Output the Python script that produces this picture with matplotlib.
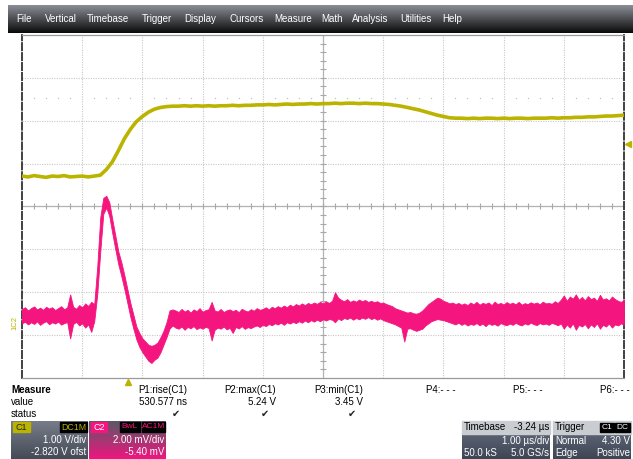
import numpy as np
import matplotlib
matplotlib.use("Agg")
import matplotlib.pyplot as plt
from matplotlib.patches import Rectangle
from matplotlib.colors import LinearSegmentedColormap

plt.rcParams['font.family'] = ['Liberation Sans', 'DejaVu Sans']

# --- channel settings ---
c1_scale, c1_offset = 1.00, -2.820   # V/div, V
c2_scale, c2_offset = 2.00, -5.40    # mV/div, mV
c1_dt = 0.1                          # us between listed C1 samples
c2_dt = 0.05                         # us between listed C2 samples

# C1 (yellow) in V, one value every 0.1 us
c1_volts = [
    3.53, 3.51, 3.54, 3.52, 3.50, 3.53, 3.52, 3.54, 3.51, 3.52,
    3.53, 3.51, 3.53, 3.55, 3.68, 3.86, 4.12, 4.40, 4.62, 4.80,
    4.92, 5.02, 5.09, 5.13, 5.15, 5.16, 5.16, 5.17, 5.16, 5.17,
    5.16, 5.17, 5.16, 5.17, 5.17, 5.18, 5.17, 5.18, 5.18, 5.19,
    5.19, 5.20, 5.19, 5.20, 5.21, 5.20, 5.21, 5.21, 5.22, 5.21,
    5.22, 5.22, 5.23, 5.22, 5.23, 5.23, 5.22, 5.23, 5.22, 5.22,
    5.21, 5.20, 5.18, 5.16, 5.13, 5.10, 5.07, 5.03, 4.99, 4.95,
    4.92, 4.89, 4.88, 4.88, 4.87, 4.88, 4.87, 4.88, 4.88, 4.87,
    4.88, 4.87, 4.88, 4.88, 4.87, 4.88, 4.88, 4.88, 4.89, 4.88,
    4.89, 4.89, 4.90, 4.90, 4.91, 4.91, 4.92, 4.93, 4.93, 4.94,
    4.95,
]

# C2 (pink) noise envelope in mV, one pair every 0.05 us
c2_low = [
    -0.05, 0.02, -0.10, 0.00, -0.08, 0.04, -0.12, -0.02, 0.05, -0.09,
    0.00, -0.06, 0.03, -0.11, -0.04, 0.01, -0.75, -0.08, 0.02, -0.15,
    -0.05, -0.25, -0.10, -0.45, 0.05, 1.30, 3.30, 5.05, 5.35, 4.95,
    4.15, 3.40, 2.70, 2.15, 1.55, 0.90, 0.25, -0.30, -0.80, -1.15,
    -1.40, -1.60, -1.80, -1.90, -1.75, -1.65, -1.40, -1.05, -0.70, -0.30,
    -0.15, -0.25, -0.30, -0.20, -0.35, -0.22, -0.28, -0.18, -0.32, -0.24,
    -0.30, -0.21, -0.27, -0.85, -0.35, -0.25, -0.30, -0.20, -0.33, -0.26,
    -0.50, -0.22, -0.29, -0.18, -0.31, -0.23, -0.27, -0.20, -0.15, -0.22,
    -0.12, -0.18, -0.08, -0.14, -0.05, -0.10, -0.02, -0.12, 0.00, -0.06,
    0.02, -0.04, 0.05, -0.02, 0.08, 0.00, 0.10, 0.03, 0.12, 0.05,
    0.14, 0.08, 0.15, 0.12, 0.00, 0.18, 0.10, 0.20, 0.15, 0.22,
    0.12, 0.20, 0.14, 0.22, 0.16, 0.24, 0.15, 0.20, 0.12, 0.18,
    0.10, 0.05, 0.00, -0.05, -0.10, -0.18, -0.25, -0.90, -0.30, -0.28,
    -0.35, -0.40, -0.35, -0.30, -0.15, -0.05, 0.05, 0.10, 0.15, 0.12,
    0.10, 0.05, 0.00, -0.05, -0.10, -0.02, -0.12, -0.05, -0.15, -0.08,
    -0.12, -0.04, -0.14, -0.06, -0.18, -0.05, -0.12, -0.08, -0.16, -0.04,
    -0.10, -0.14, -0.06, -0.12, -0.03, -0.10, -0.15, -0.05, -0.11, -0.02,
    -0.09, -0.13, -0.04, -0.10, -0.06, -0.12, -0.03, -0.08, -0.14, -0.05,
    -0.30, -0.10, -0.25, -0.05, -0.35, -0.12, -0.20, -0.08, -0.28, -0.10,
    -0.22, -0.05, -0.30, -0.12, -0.20, -0.06, -0.25, -0.10, -0.15, -0.05,
    -0.12,
]
c2_high = [
    0.62, 0.70, 0.55, 0.66, 0.74, 0.60, 0.68, 0.58, 0.72, 0.64,
    0.70, 0.57, 0.66, 0.75, 0.61, 0.69, 1.30, 0.72, 0.63, 0.80,
    0.70, 0.88, 0.76, 0.95, 0.85, 2.60, 4.90, 5.80, 5.90, 5.60,
    4.80, 4.05, 3.30, 2.80, 2.20, 1.55, 0.90, 0.35, -0.20, -0.50,
    -0.75, -0.90, -1.05, -1.10, -1.05, -0.95, -0.70, -0.40, 0.00, 0.55,
    0.60, 0.55, 0.48, 0.62, 0.50, 0.58, 0.45, 0.60, 0.52, 0.66,
    0.49, 0.57, 0.61, 0.95, 0.55, 0.50, 0.62, 0.48, 0.56, 0.60,
    0.52, 0.58, 0.47, 0.63, 0.55, 0.50, 0.61, 0.54, 0.66, 0.58,
    0.62, 0.70, 0.60, 0.72, 0.66, 0.75, 0.68, 0.78, 0.70, 0.82,
    0.74, 0.85, 0.78, 0.88, 0.80, 0.90, 0.84, 0.92, 0.86, 0.95,
    0.88, 0.98, 0.90, 1.00, 1.40, 1.15, 1.05, 0.98, 1.08, 0.95,
    1.02, 0.96, 1.06, 0.98, 1.04, 0.95, 1.00, 0.94, 0.98, 0.90,
    0.92, 0.85, 0.80, 0.75, 0.65, 0.60, 0.55, 0.50, 0.45, 0.48,
    0.42, 0.40, 0.45, 0.55, 0.70, 0.85, 0.95, 1.05, 1.15, 1.10,
    1.00, 0.95, 0.88, 0.92, 0.85, 0.90, 0.82, 0.88, 0.80, 0.92,
    0.84, 0.95, 0.82, 0.90, 0.86, 0.92, 0.80, 0.96, 0.85, 0.90,
    0.83, 0.94, 0.86, 0.91, 0.84, 0.95, 0.82, 0.89, 0.85, 0.93,
    0.87, 0.92, 0.84, 0.96, 0.88, 0.90, 0.86, 0.98, 0.90, 1.05,
    1.25, 1.00, 1.20, 1.10, 1.30, 1.05, 1.18, 1.02, 1.22, 1.08,
    1.15, 1.00, 1.28, 1.06, 1.12, 1.02, 1.20, 1.08, 1.00, 0.95,
    1.05,
]

trigger_level = 4.30      # V on C1
trigger_time = 1.76       # us from left edge of screen
marker_level = 5.35       # dotted reference level, V on C1

menu_items = ["File", "Vertical", "Timebase", "Trigger", "Display", "Cursors",
              "Measure", "Math", "Analysis", "Utilities", "Help"]
meas_names = ["P1:rise(C1)", "P2:max(C1)", "P3:min(C1)", "P4:- - -", "P5:- - -", "P6:- - -"]
meas_values = ["530.577 ns", "5.24 V", "3.45 V", "", "", ""]
meas_ok = [True, True, True, False, False, False]

YEL = '#bab300'
PINK = '#f5157f'

fig = plt.figure(figsize=(6.33, 4.59), dpi=100)

# overlay in pixel coordinates for the scope chrome
ov = fig.add_axes([0, 0, 1, 1])
ov.set_xlim(0, 633)
ov.set_ylim(459, 0)
ov.axis('off')


def grad(x0, y0, x1, y1, top, bot):
    cm = LinearSegmentedColormap.from_list('g', [top, bot])
    ov.imshow(np.linspace(0, 1, 64)[:, None], cmap=cm, extent=[x0, x1, y1, y0],
              aspect='auto', zorder=1, interpolation='bilinear')


def txt(x, y, s, ha='left', color='black', size=7, **kw):
    ov.text(x, y, s, ha=ha, va='center', color=color, fontsize=size, zorder=5, **kw)


# menu bar
grad(8, 5, 633, 33, '#8a8e96', '#0a0a0a')
menu_x = [16, 45, 87, 142, 184, 229, 274, 321, 352, 400, 442]
for s, x in zip(menu_items, menu_x):
    txt(x, 19, s, color='white', size=7)

# measurement table
txt(11, 390, "Measure", weight='bold')
txt(11, 402, "value")
txt(11, 414, "status")
name_right = [187, 276, 363, 456, 543, 630]
for name, val, ok, xr in zip(meas_names, meas_values, meas_ok, name_right):
    txt(xr, 390, name, ha='right')
    if val:
        txt(xr, 402, val, ha='right')
    if ok:
        txt(xr - 7, 414, "\u2714", ha='right', size=7, color='#222222')

# C1 box
grad(11, 421, 88, 459, '#767c88', '#444a56')
ov.add_patch(Rectangle((13, 422), 17, 10, color=YEL, zorder=3))
txt(15, 427, "C1", color='#222222', size=6.5)
ov.add_patch(Rectangle((60, 422), 27, 10, color='black', zorder=3))
txt(73.5, 427, "DC1M", ha='center', color=YEL, size=6.3)
txt(86, 440, "1.00 V/div", ha='right', color='white')
txt(86, 452, "-2.820 V ofst", ha='right', color='white')

# C2 box
grad(89, 421, 166, 459, '#5a5a66', '#ee1580')
ov.add_patch(Rectangle((91, 422), 16, 10, color=PINK, zorder=3))
txt(93, 427, "C2", color='white', size=6.5)
ov.add_patch(Rectangle((120, 422), 20, 10, color='black', zorder=3))
txt(130, 427, "BwL", ha='center', color=PINK, size=6)
ov.add_patch(Rectangle((142, 422), 23, 10, color='black', zorder=3))
txt(153.5, 427, "AC1M", ha='center', color=PINK, size=6)
txt(164, 440, "2.00 mV/div", ha='right', color='white')
txt(164, 452, "-5.40 mV", ha='right', color='white')

# timebase box
ov.add_patch(Rectangle((462, 421), 88, 13, color='#c9cdd2', zorder=2))
grad(462, 434, 550, 459, '#5a6272', '#3e4656')
txt(464, 427.5, "Timebase")
txt(549, 427.5, "-3.24 \u00b5s", ha='right')
txt(549, 441, "1.00 \u00b5s/div", ha='right', color='white')
txt(464, 453, "50.0 kS", color='white')
txt(549, 453, "5.0 GS/s", ha='right', color='white')

# trigger box
ov.add_patch(Rectangle((553, 421), 78, 13, color='#c9cdd2', zorder=2))
grad(553, 434, 631, 459, '#5a6272', '#3e4656')
txt(555, 427.5, "Trigger")
ov.add_patch(Rectangle((600, 423), 14, 9, color='black', zorder=3))
txt(607, 427.5, "C1", ha='center', color='white', size=6)
ov.add_patch(Rectangle((615, 423), 15, 9, color='black', zorder=3))
txt(622.5, 427.5, "DC", ha='center', color='white', size=6)
txt(555, 441, "Normal", color='white')
txt(630, 441, "4.30 V", ha='right', color='white')
txt(555, 453, "Edge", color='white')
txt(630, 453, "Positive", ha='right', color='white')

ov.set_xlim(0, 633)
ov.set_ylim(459, 0)

# --- grid area, in divisions ---
ax = fig.add_axes([22 / 633, 1 - 378 / 459, 602 / 633, 343 / 459])
ax.set_zorder(2)
ax.set_xlim(0, 10)
ax.set_ylim(-4, 4)
ax.set_xticks([])
ax.set_yticks([])
for v in range(1, 10):
    ax.axvline(v, color='#c8c8c8', lw=0.8, ls=(0, (1, 1.2)), zorder=1)
for v in range(-3, 4):
    ax.axhline(v, color='#c8c8c8', lw=0.8, ls=(0, (1, 1.2)), zorder=1)
ax.axvline(5, color='#b4b4b4', lw=0.9, zorder=1)
ax.axhline(0, color='#b4b4b4', lw=0.9, zorder=1)
minor = np.arange(0.2, 10, 0.2)
ax.plot(minor, np.zeros_like(minor), ls='none', marker='|', ms=4, color='#a8a8a8', mew=0.8)
minor_y = np.arange(-3.8, 4, 0.2)
ax.plot(np.full_like(minor_y, 5), minor_y, ls='none', marker='_', ms=4, color='#a8a8a8', mew=0.8)
dots = np.array([x for x in np.arange(0.2, 10, 0.2) if abs(x - round(x)) > 0.05])
marker_div = (marker_level + c1_offset) / c1_scale
ax.plot(dots, np.full_like(dots, marker_div), ls='none', marker='s', ms=0.9,
        color='#c0c0c0', mew=0)

for side in ['left', 'right']:
    ax.spines[side].set_color('#333333')
    ax.spines[side].set_linewidth(1.3)
    ax.spines[side].set_linestyle((0, (4, 1.5)))
for side in ['top', 'bottom']:
    ax.spines[side].set_color('#9a9a9a')
    ax.spines[side].set_linewidth(0.9)

# traces
t1 = np.arange(len(c1_volts)) * c1_dt
y1 = (np.array(c1_volts) + c1_offset) / c1_scale
t2 = np.arange(len(c2_low)) * c2_dt
lo2 = (np.array(c2_low) + c2_offset) / c2_scale
hi2 = (np.array(c2_high) + c2_offset) / c2_scale

ax.fill_between(t2, lo2, hi2, color=PINK, lw=0.6, edgecolor=PINK, zorder=3)
ax.plot(t1, y1, color=YEL, lw=2.6, zorder=4, solid_capstyle='butt')

# trigger and ground markers (outside the grid)
trig_y = 207 - (trigger_level + c1_offset) / c1_scale * 42.875
ov.plot([628], [trig_y], marker='<', ms=5, color=YEL, zorder=6)
ov.plot([22 + trigger_time * 60.2], [382], marker='^', ms=5, color=YEL, zorder=6)
gnd_y = 207 - (0 + c2_offset) / c2_scale * 42.875
ov.text(15, gnd_y, "1C2", rotation=90, ha='center', va='center', fontsize=5.5,
        color='#b8b000', zorder=6)
ov.set_xlim(0, 633)
ov.set_ylim(459, 0)

fig.savefig('out.png', dpi=100)
